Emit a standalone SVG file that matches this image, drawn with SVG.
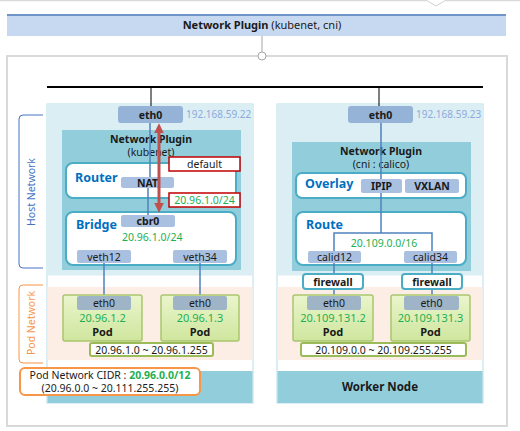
<svg xmlns="http://www.w3.org/2000/svg" width="520" height="431" viewBox="0 0 520 431">
  <defs>
    <style>
      .t{font-family:"Noto Sans","Liberation Sans",sans-serif;font-size:10.5px;fill:#1a1a1a}
      .b{font-weight:bold}
      .m{text-anchor:middle}
      .ttl{font-family:"Noto Sans","Liberation Sans",sans-serif;font-size:12.5px;font-weight:bold;fill:#0070C0}
      .g{fill:#1DB052}
      .ip{fill:#8EA9DB;font-size:10px}
      .node{fill:#fff;stroke:#B7DEE8;stroke-width:1}
      .host{fill:#DAEEF3}
      .podnet{fill:#FCEDE5}
      .teal{fill:#92CDDC}
      .panel{fill:#fff;stroke:#4BACC6;stroke-width:2}
      .tag{fill:#A9C0E0}
      .tag0{fill:#95B3D7}
      .peth{fill:#9FB4C6}
      .pod{fill:url(#podFill);stroke:#A9C66D;stroke-width:1.5}
      .range{fill:#fff;stroke:#9BBB59;stroke-width:2}
      .fw{fill:#fff;stroke:#4BACC6;stroke-width:2}
      .rbox{fill:#fff;stroke:#C00000;stroke-width:1.5}
      .bus{stroke:#000;fill:none}
      .link{stroke:#4F81BD;stroke-width:1.5;fill:none}
      .pt{font-size:11px}
    </style>
    <linearGradient id="podFill" x1="0" y1="0" x2="0" y2="1">
      <stop offset="0" stop-color="#EAF5CC"/>
      <stop offset="1" stop-color="#CFE69E"/>
    </linearGradient>
    <marker id="redHead" viewBox="0 0 10 10" refX="2" refY="5" markerWidth="3.2" markerHeight="3.2" orient="auto-start-reverse">
      <path d="M0,0 L10,5 L0,10 z" fill="#C0504D"/>
    </marker>
  </defs>

  <!-- callout edge along the top -->
  <path d="M0,0.7 H427 L436,6 L445,0.7 H520" fill="#fff" stroke="#D0D0D0" stroke-width="1"/>

  <!-- header -->
  <g id="header">
    <rect x="7" y="14" width="499" height="22" fill="#C6D9F1"/>
    <line x1="7" y1="15" x2="506" y2="15" stroke="#6F94C8" stroke-width="2"/>
    <text class="t m" x="262" y="29" style="font-size:11px"><tspan class="b">Network Plugin</tspan> (kubenet, cni)</text>
  </g>

  <!-- outer frame -->
  <rect x="7" y="56" width="500" height="370" fill="#fff" stroke="#D9D9D9" stroke-width="2"/>

  <!-- side brackets -->
  <g id="host-network-label">
    <path d="M43,115 H23 Q19,115 19,119 V264 Q19,268 23,268 H43" fill="none" stroke="#4472C4" stroke-width="1"/>
    <text class="t m" x="0" y="0" transform="translate(35,192) rotate(-90)" style="fill:#4472C4">Host Network</text>
  </g>
  <g id="pod-network-label">
    <path d="M43,285 H23 Q19,285 19,289 V359 Q19,363 23,363 H43" fill="none" stroke="#F79646" stroke-width="1"/>
    <text class="t m" x="0" y="0" transform="translate(35,323) rotate(-90)" style="fill:#F79646">Pod Network</text>
  </g>

  <!-- worker node (kubenet) -->
  <g id="node-left">
    <rect class="node" x="47" y="104" width="206" height="299"/>
    <rect class="host" x="47.5" y="104.5" width="205" height="171"/>
    <rect class="podnet" x="47.5" y="287" width="205" height="73"/>
    <rect class="teal" x="47.5" y="371" width="205" height="32"/>
  </g>
  <g id="plugin-left">
    <rect class="teal" x="62" y="130" width="179" height="140"/>
    <text class="t b m" x="151" y="143">Network Plugin</text>
    <text class="t m" x="151" y="156">(kubenet)</text>
  </g>
  <g id="router">
    <rect class="panel" x="66" y="163" width="170" height="35" rx="7"/>
    <text class="ttl" x="75" y="182">Router</text>
  </g>
  <g id="bridge">
    <rect class="panel" x="66" y="212" width="170" height="53" rx="7"/>
    <text class="ttl" x="76" y="229">Bridge</text>
    <text class="t g" x="122" y="241">20.96.1.0/24</text>
  </g>

  <!-- worker node (calico) -->
  <g id="node-right">
    <rect class="node" x="277" y="104" width="206" height="299"/>
    <rect class="host" x="277.5" y="104.5" width="205" height="171"/>
    <rect class="podnet" x="277.5" y="287" width="205" height="73"/>
    <rect class="teal" x="277.5" y="371" width="205" height="32"/>
    <text class="t b m" x="380" y="391" style="font-size:11.5px">Worker Node</text>
  </g>
  <g id="plugin-right">
    <rect class="teal" x="292" y="142" width="179" height="129"/>
    <text class="t b m" x="381" y="155">Network Plugin</text>
    <text class="t m" x="381" y="168">(cni : calico)</text>
  </g>
  <g id="overlay">
    <rect class="panel" x="296" y="173" width="170" height="25" rx="6"/>
    <text class="ttl" x="305" y="188">Overlay</text>
  </g>
  <g id="route">
    <rect class="panel" x="296" y="212" width="170" height="53" rx="7"/>
    <text class="ttl" x="306" y="229">Route</text>
  </g>

  <!-- connectors -->
  <g id="connectors">
    <line x1="262" y1="36" x2="262" y2="52" stroke="#A6A6A6" stroke-width="1"/>
    <circle cx="262" cy="56" r="4" fill="#fff" stroke="#A6A6A6" stroke-width="1"/>
    <line class="bus" x1="47" y1="87" x2="483" y2="87" stroke-width="2"/>
    <line class="bus" x1="151" y1="87" x2="151" y2="106" stroke-width="1"/>
    <line class="bus" x1="379" y1="87" x2="379" y2="106" stroke-width="1"/>
    <line class="link" x1="150" y1="123" x2="150" y2="177"/>
    <line class="link" x1="148" y1="188" x2="148" y2="216"/>
    <line class="link" x1="104" y1="263" x2="104" y2="296"/>
    <line class="link" x1="200" y1="263" x2="200" y2="296"/>
    <path class="link" d="M381,123 V233 M334,251 V233 H432 V251"/>
    <line class="link" x1="334" y1="263" x2="334" y2="295"/>
    <line class="link" x1="432" y1="263" x2="432" y2="295"/>
  </g>

  <!-- small interface tags -->
  <g id="eth0-left">
    <rect class="tag0" x="118" y="106" width="65" height="17" rx="3"/>
    <text class="t b m" x="150.5" y="118.5">eth0</text>
    <text class="t ip" x="186" y="118">192.168.59.22</text>
  </g>
  <g id="nat">
    <rect class="tag" x="121" y="177" width="53" height="11" rx="2"/>
    <text class="t b m" x="147.5" y="186.5">NAT</text>
  </g>
  <g id="cbr0">
    <rect class="tag" x="121" y="215" width="54" height="12" rx="2"/>
    <text class="t b m" x="148" y="225">cbr0</text>
  </g>
  <g id="veth12">
    <rect class="tag" x="77" y="250" width="54" height="13" rx="2"/>
    <text class="t m" x="104" y="260.5">veth12</text>
  </g>
  <g id="veth34">
    <rect class="tag" x="173" y="250" width="54" height="13" rx="2"/>
    <text class="t m" x="200" y="260.5">veth34</text>
  </g>

  <g id="eth0-right">
    <rect class="tag0" x="348" y="106" width="65" height="17" rx="3"/>
    <text class="t b m" x="380.5" y="118.5">eth0</text>
    <text class="t ip" x="416" y="118">192.168.59.23</text>
  </g>
  <g id="ipip">
    <rect class="tag" x="361" y="179" width="41" height="14" rx="2"/>
    <text class="t b m" x="381.5" y="190">IPIP</text>
  </g>
  <g id="vxlan">
    <rect class="tag" x="405" y="179" width="54" height="14" rx="2"/>
    <text class="t b m" x="432" y="190">VXLAN</text>
  </g>
  <text class="t g m" x="384" y="247">20.109.0.0/16</text>
  <g id="calid12">
    <rect class="tag" x="308" y="251" width="53" height="12" rx="2"/>
    <text class="t m" x="334.5" y="261">calid12</text>
  </g>
  <g id="calid34">
    <rect class="tag" x="404" y="251" width="53" height="12" rx="2"/>
    <text class="t m" x="430.5" y="261">calid34</text>
  </g>
  <g id="firewall-1">
    <rect class="fw" x="303" y="274" width="60" height="15" rx="3"/>
    <text class="t b m" x="333" y="285.5">firewall</text>
  </g>
  <g id="firewall-2">
    <rect class="fw" x="402" y="274" width="60" height="15" rx="3"/>
    <text class="t b m" x="432" y="285.5">firewall</text>
  </g>

  <!-- route labels on the kubenet path -->
  <g id="route-default">
    <rect class="rbox" x="169" y="157" width="71" height="14"/>
    <text class="t m" x="204.5" y="168">default</text>
  </g>
  <g id="route-local">
    <rect class="rbox" x="169" y="193" width="71" height="14"/>
    <text class="t g m" x="204.5" y="204">20.96.1.0/24</text>
  </g>
  <line id="nat-path" x1="159" y1="131" x2="159" y2="205" stroke="#C0504D" stroke-width="3" marker-start="url(#redHead)" marker-end="url(#redHead)"/>

  <!-- pods -->
  <g id="pod-1">
    <rect class="pod" x="63" y="295" width="79" height="46" rx="2"/>
    <rect class="peth" x="77" y="296" width="54" height="14" rx="2"/>
    <text class="t m" x="104" y="307">eth0</text>
    <text class="t g m pt" x="102.5" y="322">20.96.1.2</text>
    <text class="t b m pt" x="102.5" y="336">Pod</text>
  </g>
  <g id="pod-2">
    <rect class="pod" x="161" y="295" width="78" height="46" rx="2"/>
    <rect class="peth" x="173" y="296" width="54" height="14" rx="2"/>
    <text class="t m" x="200" y="307">eth0</text>
    <text class="t g m pt" x="200" y="322">20.96.1.3</text>
    <text class="t b m pt" x="200" y="336">Pod</text>
  </g>
  <g id="pod-3">
    <rect class="pod" x="293" y="295" width="80" height="46" rx="2"/>
    <rect class="peth" x="307" y="296" width="54" height="14" rx="2"/>
    <text class="t m" x="334" y="307">eth0</text>
    <text class="t g m pt" x="333" y="322">20.109.131.2</text>
    <text class="t b m pt" x="333" y="336">Pod</text>
  </g>
  <g id="pod-4">
    <rect class="pod" x="391" y="295" width="79" height="46" rx="2"/>
    <rect class="peth" x="404" y="296" width="55" height="14" rx="2"/>
    <text class="t m" x="431.5" y="307">eth0</text>
    <text class="t g m pt" x="430.5" y="322">20.109.131.3</text>
    <text class="t b m pt" x="430.5" y="336">Pod</text>
  </g>

  <g id="range-left">
    <rect class="range" x="90" y="343" width="123" height="13" rx="2"/>
    <text class="t m" x="151.5" y="353.5">20.96.1.0 ~ 20.96.1.255</text>
  </g>
  <g id="range-right">
    <rect class="range" x="301" y="343" width="165" height="13" rx="2"/>
    <text class="t m" x="383.5" y="353.5">20.109.0.0 ~ 20.109.255.255</text>
  </g>

  <g id="pod-cidr">
    <rect x="20" y="368" width="180" height="27" rx="5" fill="#fff" stroke="#F79646" stroke-width="2"/>
    <text class="t m" x="110" y="379">Pod Network CIDR : <tspan class="b g">20.96.0.0/12</tspan></text>
    <text class="t m" x="110" y="392">(20.96.0.0 ~ 20.111.255.255)</text>
  </g>
</svg>
